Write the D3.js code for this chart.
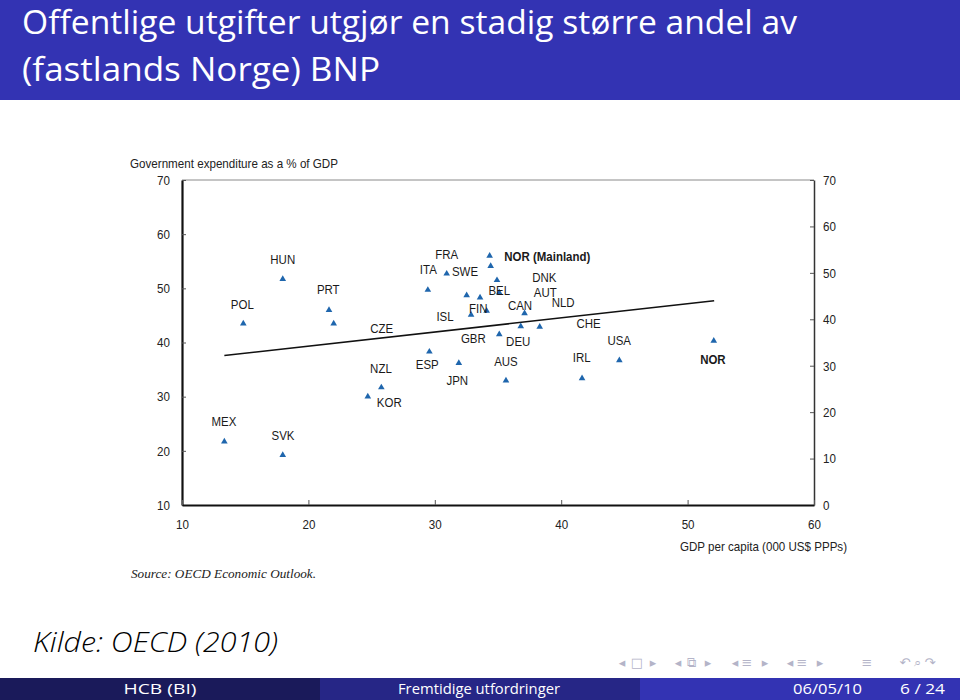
<!DOCTYPE html>
<html><head><meta charset="utf-8">
<script src="https://cdn.jsdelivr.net/npm/d3@7"></script>
<style>
html,body{margin:0;padding:0;background:#fff;}
svg{display:block;}
.narrow{font-family:"Liberation Sans",Arial,sans-serif;}
</style>
</head><body>
<svg id="c" width="960" height="700"></svg>
<script>
// ---------- data ----------
const titleLines = ["Offentlige utgifter utgjør en stadig større andel av", "(fastlands Norge) BNP"];
const yAxisTitle = "Government expenditure as a % of GDP";
const xAxisTitle = "GDP per capita (000 US$ PPPs)";
const sourceText = "Source:  OECD Economic Outlook.";
const kildeText = "Kilde: OECD (2010)";
const footerTexts = ["HCB  (BI)", "Fremtidige utfordringer", "06/05/10", "6 / 24"];

const xTicks = [10, 20, 30, 40, 50, 60];
const yLeftTicks = [10, 20, 30, 40, 50, 60, 70];
const yRightTicks = [0, 10, 20, 30, 40, 50, 60, 70];

// points: country, GDP per capita (000 US$ PPP), government expenditure (% of GDP)
const pointNames = ["MEX","SVK","POL","HUN","PRT","CZE","KOR","NZL","ITA","ESP","FRA","JPN","FIN","ISL","AUT","NLD","NOR (Mainland)","SWE","DNK","BEL","GBR","AUS","DEU","CAN","CHE","IRL","USA","NOR"];
const pointGdp  = [13.35,17.97,14.85,17.97,21.63,22.0,24.7,25.77,29.45,29.57,30.94,31.9,32.52,32.87,33.58,34.1,34.34,34.42,34.92,35.1,35.1,35.63,36.8,37.1,38.3,41.65,44.6,52.07];
const pointExp  = [21.7,19.2,43.5,51.7,46.0,43.5,30.0,31.7,49.7,38.3,52.7,36.2,48.7,45.1,48.3,45.85,56.0,54.1,51.5,49.2,41.5,32.95,43.0,45.4,42.9,33.4,36.7,40.3];

// label texts and label anchor points (in data units: GDP, expenditure)
const labelTexts = ["MEX","SVK","POL","HUN","PRT","CZE","NZL","KOR","ITA","FRA","SWE","ISL","ESP","JPN","FIN","BEL","GBR","AUS","DNK","AUT","CAN","NLD","DEU","CHE","IRL","USA","NOR","NOR (Mainland)"];
const labelGdp = [13.32,17.99,14.77,17.97,21.57,25.8,25.74,26.4,29.49,30.94,32.39,30.81,29.4,31.78,33.44,35.1,33.05,35.63,38.66,38.74,36.74,40.15,36.6,42.16,41.62,44.59,52.0,35.5];
const labelExp = [25.5,22.87,47.1,55.36,49.8,42.6,35.35,29.07,53.5,56.28,53.25,44.9,35.94,33.08,46.31,49.7,40.77,36.58,52.05,49.38,46.92,47.45,40.33,43.65,37.32,40.52,37.0,55.97];

// regression line endpoints
const trendGdp = [13.35, 52.1];
const trendExp = [37.6, 47.7];

// ---------- drawing ----------
const svg = d3.select("#c");

function condense(sel, s){
  sel.each(function(){
    const t = d3.select(this);
    const xx = +(t.attr("x")||0), yy = +(t.attr("y")||0);
    t.attr("x",0).attr("y",0).attr("transform",`translate(${xx},${yy}) scale(${s},1)`);
  });
}

// title bar
svg.append("rect").attr("x",0).attr("y",0).attr("width",960).attr("height",100).attr("fill","#3333b3");
const titleFont = "'Open Sans','DejaVu Sans',sans-serif";
svg.append("text").attr("x",22).attr("y",34).attr("fill","#fff")
  .attr("font-family",titleFont).attr("font-size",33)
  .attr("textLength",775).attr("lengthAdjust","spacingAndGlyphs").text(titleLines[0]);
svg.append("text").attr("x",22).attr("y",81).attr("fill","#fff")
  .attr("font-family",titleFont).attr("font-size",33)
  .attr("textLength",358).attr("lengthAdjust","spacingAndGlyphs").text(titleLines[1]);

// scales
const x = d3.scaleLinear().domain([10,60]).range([182,814]);
const yL = d3.scaleLinear().domain([10,70]).range([505,180]);
const yR = d3.scaleLinear().domain([0,70]).range([505,180]);

const g = svg.append("g").attr("class","narrow");

// frame top (thin gray)
g.append("line").attr("x1",x(10)).attr("x2",x(60)).attr("y1",yL(70)).attr("y2",yL(70))
  .attr("stroke","#8a8a8a").attr("stroke-width",1);

// left axis
const axL = g.append("g").attr("transform",`translate(${x(10)},0)`)
  .call(d3.axisLeft(yL).tickValues(yLeftTicks).tickSizeInner(-4).tickSizeOuter(0).tickPadding(12));
axL.select(".domain").attr("stroke","#111").attr("stroke-width",2.2);
axL.selectAll(".tick line").attr("stroke","#555");
axL.selectAll(".tick text").attr("font-size",13.5).attr("fill","#222").attr("font-family","inherit");
condense(axL.selectAll(".tick text"),0.86);

// right axis
const axR = g.append("g").attr("transform",`translate(${x(60)},0)`)
  .call(d3.axisRight(yR).tickValues(yRightTicks).tickSizeInner(-4).tickSizeOuter(0).tickPadding(9));
axR.select(".domain").attr("stroke","#333").attr("stroke-width",1.5);
axR.selectAll(".tick line").attr("stroke","#555");
axR.selectAll(".tick text").attr("font-size",13.5).attr("fill","#222").attr("font-family","inherit");
condense(axR.selectAll(".tick text"),0.86);

// bottom axis
const axB = g.append("g").attr("transform",`translate(0,${yL(10)})`)
  .call(d3.axisBottom(x).tickValues(xTicks).tickSizeInner(-5).tickSizeOuter(0).tickPadding(14));
axB.select(".domain").attr("stroke","#111").attr("stroke-width",2.2);
axB.selectAll(".tick line").attr("stroke","#555");
axB.selectAll(".tick text").attr("font-size",13.5).attr("fill","#222").attr("font-family","inherit");
condense(axB.selectAll(".tick text"),0.86);

// axis titles
g.append("text").attr("x",130).attr("y",168).attr("font-size",13.5).attr("fill","#222")
  .attr("textLength",208).attr("lengthAdjust","spacingAndGlyphs").text(yAxisTitle);
g.append("text").attr("x",847).attr("y",551).attr("text-anchor","end").attr("font-size",13.5).attr("fill","#222")
  .attr("textLength",167).attr("lengthAdjust","spacingAndGlyphs").text(xAxisTitle);

// trend line
g.append("line")
  .attr("x1",x(trendGdp[0])).attr("y1",yL(trendExp[0]))
  .attr("x2",x(trendGdp[1])).attr("y2",yL(trendExp[1]))
  .attr("stroke","#111").attr("stroke-width",1.6);

// points
const pts = pointNames.map((n,i)=>({n, gdp:pointGdp[i], exp:pointExp[i]}));
g.selectAll("path.pt").data(pts).enter().append("path").attr("class","pt")
  .attr("d", d3.symbol().type(d3.symbolTriangle).size(19))
  .attr("transform", d=>`translate(${x(d.gdp)},${yL(d.exp)})`)
  .attr("fill","#1f66ad");

// labels
const labs = labelTexts.map((t,i)=>({t, gdp:labelGdp[i], exp:labelExp[i]}));
const labSel = g.selectAll("text.lab").data(labs).enter().append("text").attr("class","lab")
  .attr("x", d=>x(d.gdp)).attr("y", d=>yL(d.exp))
  .attr("dy","0.36em")
  .attr("text-anchor", d=> d.t==="NOR (Mainland)" ? "start" : "middle")
  .attr("font-size",13.5)
  .attr("font-weight", d=> d.t.startsWith("NOR") ? "bold" : "normal")
  .attr("fill","#1a1a1a")
  .text(d=>d.t);
condense(labSel,0.85);

// source
svg.append("text").attr("x",131).attr("y",578).attr("font-family","'Liberation Serif','DejaVu Serif',serif")
  .attr("font-style","italic").attr("font-size",13).attr("fill","#222")
  .attr("textLength",185).attr("lengthAdjust","spacingAndGlyphs").text(sourceText);

// Kilde
svg.append("text").attr("x",33).attr("y",652).attr("font-family","'Open Sans','DejaVu Sans',sans-serif")
  .attr("font-style","italic").attr("font-size",27).attr("font-weight",300).attr("fill","#000")
  .attr("textLength",245).attr("lengthAdjust","spacingAndGlyphs").text(kildeText);

// navigation symbols
const navItems = [["◂",622],["□",637],["▸",653],["◂",678],["⧉",691],["▸",708],["◂",735],["≡",747],["▸",765],["◂",790],["≡",802],["▸",820],["≡",867],["↶",905],["⌕",917],["↷",930]];
svg.selectAll("text.nav").data(navItems).enter().append("text").attr("class","nav")
  .attr("x",d=>d[1]).attr("y",667).attr("text-anchor","middle")
  .attr("font-family","'DejaVu Sans',sans-serif").attr("font-size",13).attr("fill","#b4b4c8")
  .text(d=>d[0]);

// footer
svg.append("rect").attr("x",0).attr("y",678).attr("width",320).attr("height",22).attr("fill","#1a1a5a");
svg.append("rect").attr("x",320).attr("y",678).attr("width",320).attr("height",22).attr("fill","#262686");
svg.append("rect").attr("x",640).attr("y",678).attr("width",320).attr("height",22).attr("fill","#3333b3");
const fFont = "'Open Sans','DejaVu Sans',sans-serif";
svg.append("text").attr("x",160).attr("y",694).attr("text-anchor","middle").attr("fill","#fff").attr("font-family",fFont).attr("font-size",15)
  .attr("textLength",73).attr("lengthAdjust","spacingAndGlyphs").text(footerTexts[0]);
svg.append("text").attr("x",479).attr("y",694).attr("text-anchor","middle").attr("fill","#fff").attr("font-family",fFont).attr("font-size",15)
  .attr("textLength",162).attr("lengthAdjust","spacingAndGlyphs").text(footerTexts[1]);
svg.append("text").attr("x",793).attr("y",694).attr("fill","#fff").attr("font-family",fFont).attr("font-size",15)
  .attr("textLength",69).attr("lengthAdjust","spacingAndGlyphs").text(footerTexts[2]);
svg.append("text").attr("x",900).attr("y",694).attr("fill","#fff").attr("font-family",fFont).attr("font-size",15)
  .attr("textLength",45).attr("lengthAdjust","spacingAndGlyphs").text(footerTexts[3]);
</script>
</body></html>
